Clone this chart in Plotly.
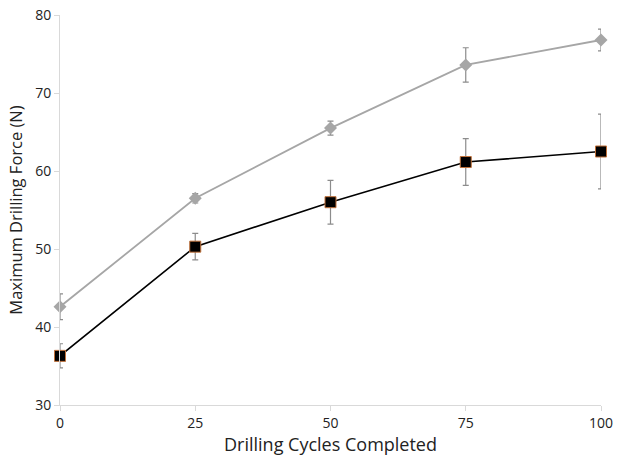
import plotly.graph_objects as go

cycles = [0, 25, 50, 75, 100]
gray_force = [42.6, 56.5, 65.5, 73.6, 76.8]
gray_err = [1.65, 0.6, 0.9, 2.2, 1.4]
black_force = [36.3, 50.3, 56.0, 61.15, 62.5]
black_err = [1.55, 1.7, 2.8, 3.0, 4.8]

x_ticks = [0, 25, 50, 75, 100]
y_ticks = [30, 40, 50, 60, 70, 80]

fig = go.Figure()
fig.add_trace(go.Scatter(
    x=cycles, y=gray_force, mode="lines+markers",
    line=dict(color="#A6A6A6", width=1.8),
    marker=dict(symbol="diamond", size=10, color="#A6A6A6"),
    error_y=dict(type="data", array=gray_err, visible=True, color="#8C8C8C", thickness=1.2, width=3),
    showlegend=False, cliponaxis=False))
fig.add_trace(go.Scatter(
    x=cycles, y=black_force, mode="lines+markers",
    line=dict(color="#000000", width=1.6),
    marker=dict(symbol="square", size=11, color="#000000", line=dict(color="#C0713A", width=1)),
    error_y=dict(type="data", array=black_err, visible=True, color="#8C8C8C", thickness=1.2, width=3),
    showlegend=False, cliponaxis=False))

fig.update_layout(
    width=618, height=456,
    margin=dict(l=60, r=17, t=15, b=51),
    plot_bgcolor="white", paper_bgcolor="white",
    font=dict(family="Open Sans, Lato, sans-serif", color="#222222"),
    xaxis=dict(range=[0, 100], tickvals=x_ticks, showgrid=False, zeroline=False,
               showline=True, linecolor="#D9D9D9", linewidth=1,
               ticks="outside", tickcolor="#D9D9D9", ticklen=5,
               tickfont=dict(size=14), automargin=False,
               title=dict(text="Drilling Cycles Completed", font=dict(size=18), standoff=9)),
    yaxis=dict(range=[30, 80], tickvals=y_ticks, showgrid=False, zeroline=False,
               showline=True, linecolor="#D9D9D9", linewidth=1,
               ticks="outside", tickcolor="#D9D9D9", ticklen=5,
               tickfont=dict(size=14), automargin=False,
               title=dict(text="Maximum Drilling Force (N)", font=dict(size=16.5), standoff=8)),
)

fig.write_html("out.html", config={"displayModeBar": False},
               post_script="document.body.style.margin='0';document.body.style.overflow='hidden';")
